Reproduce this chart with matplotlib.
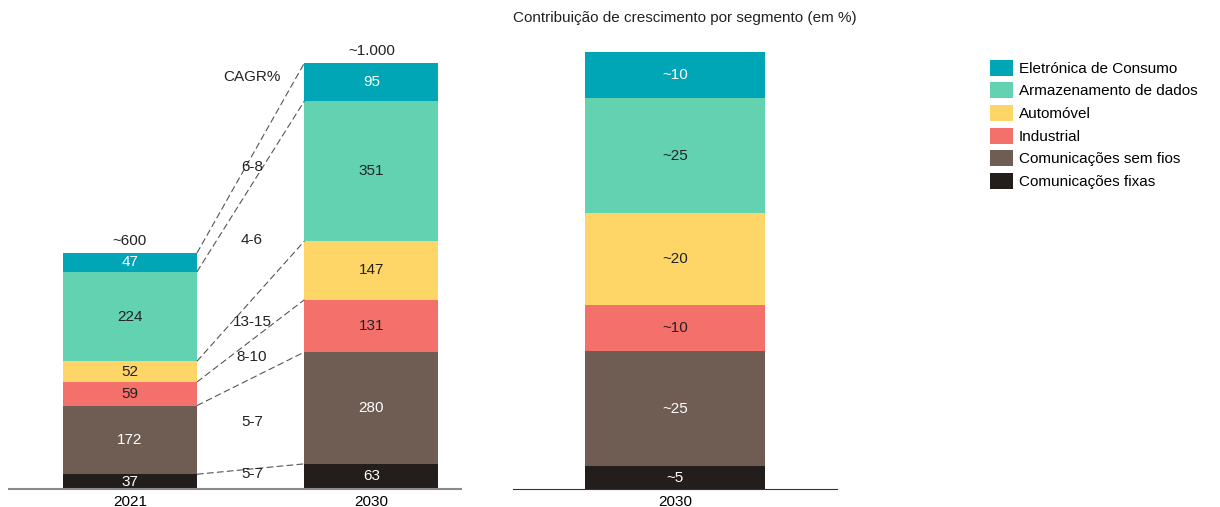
import matplotlib.pyplot as plt
from matplotlib.patches import Patch

plt.rcParams['font.family'] = ['Liberation Sans', 'DejaVu Sans']

# segmentos (de baixo para cima)
SEGMENTS = ["Comunicações fixas", "Comunicações sem fios", "Industrial",
            "Automóvel", "Armazenamento de dados", "Eletrónica de Consumo"]
COLORS = ["#231e1b", "#6f5c53", "#f3716a", "#fed668", "#62d2b1", "#00a5b6"]
TEXT_COLORS = ["white", "white", "#222222", "#222222", "#222222", "white"]

YEARS = ["2021", "2030"]
VALUES_2021 = [37, 172, 59, 52, 224, 47]
VALUES_2030 = [63, 280, 131, 147, 351, 95]
TOTALS = ["~600", "~1.000"]
CAGR = ["5-7", "5-7", "8-10", "13-15", "4-6", "6-8"]
CAGR_Y = [38, 168, 331, 418, 624, 806]

SHARE_2030 = [5, 25, 10, 20, 25, 10]
SHARE_LABELS = ["~5", "~25", "~10", "~20", "~25", "~10"]

FS = 11

W, H = 1220, 507
fig = plt.figure(figsize=(W / 100, H / 100), dpi=100)

BASE = 489
TOP = 30


def px_axes(x0, x1):
    return fig.add_axes([x0 / W, 1 - BASE / H, (x1 - x0) / W, (BASE - TOP) / H])


# ---- painel esquerdo ----
ax = px_axes(9, 461)
width = 0.555
ax.set_xlim(-0.501, 1.371)
ax.set_ylim(0, (BASE - TOP) / 0.3993)

for i, vals in enumerate([VALUES_2021, VALUES_2030]):
    bottom = 0
    for v, c, tc in zip(vals, COLORS, TEXT_COLORS):
        ax.bar(i, v, width, bottom=bottom, color=c, linewidth=0)
        ax.text(i, bottom + v / 2, str(v), ha='center', va='center', fontsize=FS, color=tc)
        bottom += v
    ax.text(i, bottom + 12, TOTALS[i], ha='center', va='bottom', fontsize=FS, color='#222222')

# linhas tracejadas entre as barras
c21 = 0
c30 = 0
for v21, v30 in zip(VALUES_2021, VALUES_2030):
    c21 += v21
    c30 += v30
    ax.plot([width / 2, 1 - width / 2], [c21, c30], ls=(0, (6, 3)), color='#555555', lw=0.8)

for lab, y in zip(CAGR, CAGR_Y):
    ax.text(0.505, y, lab, ha='center', va='center', fontsize=FS, color='#222222')
ax.text(0.505, 1032, "CAGR%", ha='center', va='center', fontsize=FS, color='#222222')

ax.set_xticks([0, 1])
ax.set_xticklabels(YEARS, fontsize=FS)
ax.tick_params(length=0, pad=4)
ax.set_yticks([])
for s in ['top', 'right', 'left']:
    ax.spines[s].set_visible(False)
ax.spines['bottom'].set_color('#8a8a8a')
ax.spines['bottom'].set_linewidth(1.5)

# ---- painel direito ----
ax2 = px_axes(513, 837)
ax2.set_xlim(-0.9, 0.9)
ax2.set_ylim(0, (BASE - TOP) / 4.6)
bottom = 0
for v, lab, c, tc in zip(SHARE_2030, SHARE_LABELS, COLORS, TEXT_COLORS):
    ax2.bar(0, v, 1.0, bottom=bottom, color=c, linewidth=0)
    ax2.text(0, bottom + v / 2, lab, ha='center', va='center', fontsize=FS, color=tc)
    bottom += v
ax2.set_xticks([0])
ax2.set_xticklabels(["2030"], fontsize=FS)
ax2.tick_params(length=0, pad=4)
ax2.set_yticks([])
for s in ['top', 'right', 'left']:
    ax2.spines[s].set_visible(False)
ax2.spines['bottom'].set_color('#333333')

fig.text(513 / W, 1 - 18 / H, "Contribuição de crescimento por segmento (em %)",
         ha='left', va='center', fontsize=FS, color='#222222')

handles = [Patch(facecolor=c, label=s) for s, c in zip(SEGMENTS, COLORS)][::-1]
fig.legend(handles=handles, loc='upper left', bbox_to_anchor=(982 / W, 1 - 52 / H),
           frameon=False, fontsize=FS, handlelength=1.5, handleheight=1.25,
           handletextpad=0.4, labelspacing=0.42, borderpad=0)

fig.savefig("out.png", dpi=100)
